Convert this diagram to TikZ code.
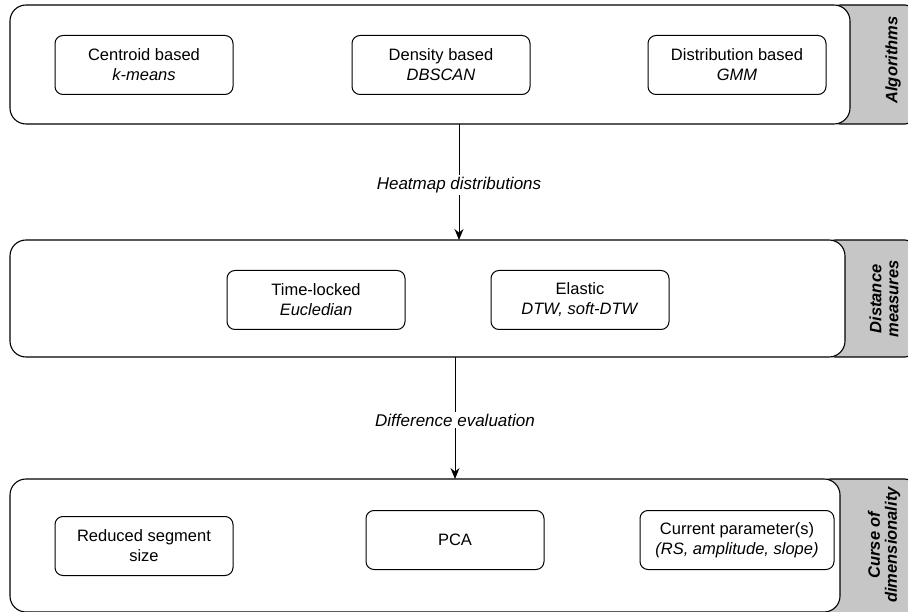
\documentclass[tikz,border=0pt]{standalone}
\usepackage{fontspec}
\setmainfont{Liberation Sans}
\usetikzlibrary{arrows.meta}
\begin{document}
\begin{tikzpicture}[x=1pt,y=-1pt,
  lane/.style={draw=black, line width=1.1pt, fill=white, rounded corners=16pt},
  tab/.style={draw=black, line width=1.1pt, fill=gray!45, rounded corners=10pt},
  inner/.style={draw=black, line width=1pt, fill=white, rounded corners=8pt, minimum width=178pt, minimum height=59pt, inner sep=2pt, align=center, font=\fontsize{16.5}{20}\selectfont},
  tabtext/.style={rotate=90, font=\fontsize{16.5}{17}\selectfont\bfseries\itshape, align=center},
  lbl/.style={fill=white, font=\fontsize{17}{20}\selectfont\itshape, inner sep=2pt},
  arr/.style={line width=1pt, -{Stealth[length=11pt,width=9pt]}}
]
\useasboundingbox (0,0) rectangle (908,612);
% top lane
\draw[tab] (830,5) rectangle (915,124);
\node[tabtext] (t1) at (893,60) {Algorithms};
\draw[lane] (10,5) rectangle (850,124);
\coordinate (top1) at (459,124);
\node[inner] (c1) at (144,65) {Centroid based\\\textit{k-means}};
\node[inner] (c2) at (441,65) {Density based\\\textit{DBSCAN}};
\node[inner] (c3) at (737,65) {Distribution based\\\textit{GMM}};
% middle lane
\draw[tab] (825,240) rectangle (915,357);
\node[tabtext] (t2) at (884,299) {Distance\\measures};
\draw[lane] (10,240) rectangle (845,357);
\coordinate (top2) at (459,240);
\coordinate (bot2) at (455,357);
\node[inner] (d1) at (316,300) {Time-locked\\\textit{Eucledian}};
\node[inner] (d2) at (580,300) {Elastic\\\textit{DTW, soft-DTW}};
% bottom lane
\draw[tab] (820,479) rectangle (915,620);
\node[tabtext] (t3) at (884,545) {Curse of\\dimensionality};
\draw[lane] (10,479) rectangle (840,612);
\coordinate (top3) at (455,479);
\node[inner] (e1) at (144,546) {Reduced segment\\size};
\node[inner] (e2) at (455,540) {PCA};
\node[inner, minimum width=194pt] (e3) at (737,540) {Current parameter(s)\\\textit{(RS, amplitude, slope)}};
% arrows
\draw[arr] (top1) -- (top2);
\node[lbl] (l1) at (459,185) {Heatmap distributions};
\draw[arr] (bot2) -- (top3);
\node[lbl] (l2) at (455,420) {Difference evaluation};
\end{tikzpicture}
\end{document}
